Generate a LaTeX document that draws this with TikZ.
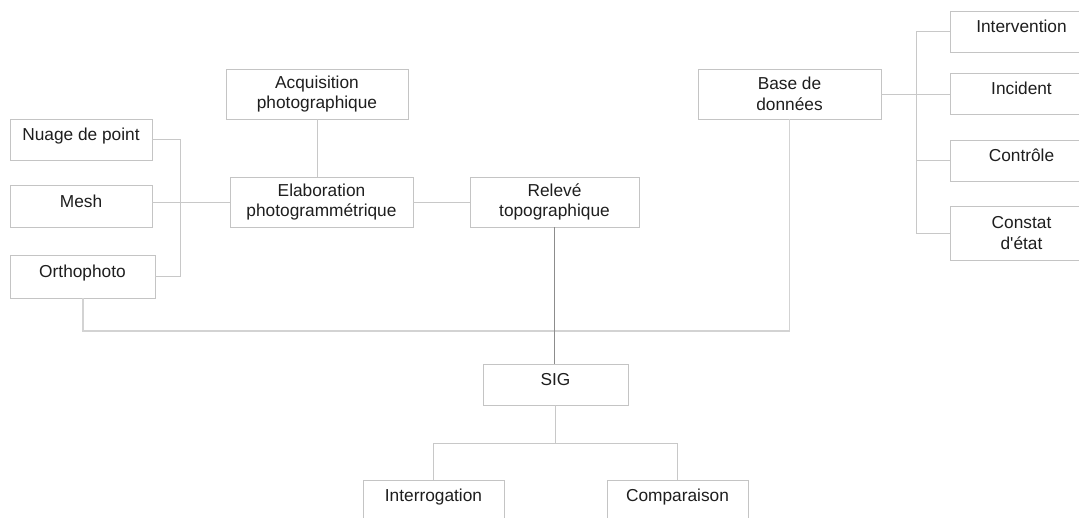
\documentclass[tikz,border=0pt]{standalone}
\usepackage{fontspec}
\setmainfont{Liberation Sans}
\definecolor{boxline}{HTML}{C4C4C4}
\definecolor{conline}{HTML}{C8C8C8}
\definecolor{darkline}{HTML}{8C8C8C}
\definecolor{txt}{HTML}{1E1E1E}
\tikzset{
  box/.style={draw=boxline, line width=0.9pt, fill=white, inner sep=0pt,
    text=txt, align=center, font=\fontsize{17.3}{20.7}\selectfont},
  one/.style={text height=12.5pt, text depth=10.5pt},
  con/.style={draw=conline, line width=0.9pt},
}
\begin{document}
\begin{tikzpicture}[x=1pt,y=-1pt]
\useasboundingbox (0,0) rectangle (1079,517);
% boxes
\node[box,one,minimum width=142,minimum height=41] (nuage) at (81,139.5) {Nuage de point};
\node[box,one,minimum width=142,minimum height=42] (mesh) at (81,206) {Mesh};
\node[box,one,minimum width=145,minimum height=43] (ortho) at (82.5,276.5) {Orthophoto};
\node[box,minimum width=182,minimum height=50] (acq) at (317,94) {Acquisition\\photographique};
\node[box,minimum width=183,minimum height=50] (elab) at (321.5,202) {Elaboration\\photogrammétrique};
\node[box,minimum width=169,minimum height=50] (releve) at (554.5,202) {Relevé\\topographique};
\node[box,minimum width=183,minimum height=50] (base) at (789.5,94) {Base de\\données};
\node[box,one,minimum width=143,minimum height=41] (interv) at (1021.5,31.5) {Intervention};
\node[box,one,minimum width=143,minimum height=41] (incid) at (1021.5,93.5) {Incident};
\node[box,one,minimum width=143,minimum height=41] (ctrl) at (1021.5,160.5) {Contrôle};
\node[box,minimum width=143,minimum height=54] (constat) at (1021.5,233) {Constat\\d\textquotesingle état};
\node[box,one,minimum width=145,minimum height=41] (sig) at (555.5,384.5) {SIG};
\node[box,one,minimum width=141,minimum height=41] (interrog) at (433.5,500.5) {Interrogation};
\node[box,one,minimum width=141,minimum height=41] (compar) at (677.5,500.5) {Comparaison};
% helper coordinates
\coordinate (lbx) at (180,202);
\coordinate (rbx) at (916,93.5);
\coordinate (busy) at (0,331);
\coordinate (sigy) at (0,443);
% connectors
\draw[con] (nuage.east) -- (nuage.east -| lbx) -- (ortho.east -| lbx) -- (ortho.east);
\draw[con] (mesh.east |- elab.west) -- (elab.west);
\draw[con] (acq.south) -- (acq.south |- elab.north);
\draw[con] (elab.east) -- (releve.west);
\draw[draw=conline!80, line width=1.5pt] (ortho.south -| 83,0) -- (83,0 |- busy) -- (base.south |- busy) -- (base.south);
\draw[con] (base.east) -- (base.east -| incid.west);
\draw[con] (interv.west) -- (interv.west -| rbx) -- (constat.west -| rbx) -- (constat.west);
\draw[con] (ctrl.west -| rbx) -- (ctrl.west);
\draw[draw=darkline, line width=0.9pt] (releve.south) -- (releve.south |- sig.north);
\draw[con] (sig.south) -- (sig.south |- sigy);
\draw[con] (interrog.north) -- (interrog.north |- sigy) -- (compar.north |- sigy) -- (compar.north);
\end{tikzpicture}
\end{document}
